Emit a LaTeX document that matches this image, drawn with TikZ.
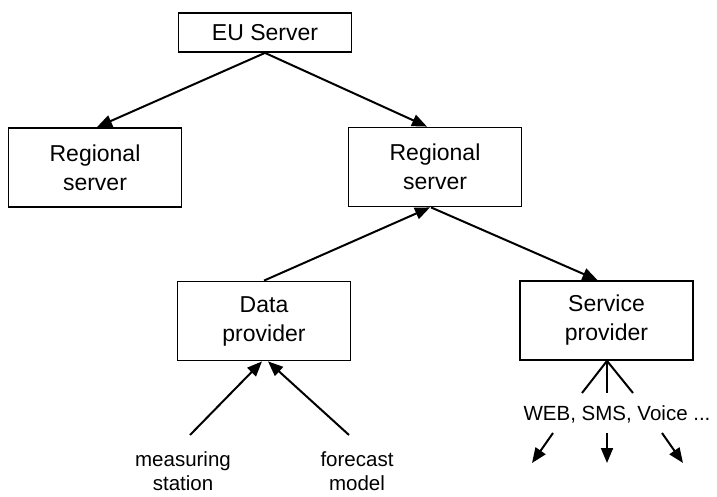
\documentclass[tikz,border=0pt]{standalone}
\usepackage{fontspec}
\setmainfont{Liberation Sans}
\usetikzlibrary{arrows.meta,calc}
\begin{document}
\begin{tikzpicture}[x=1pt,y=-1pt,
  box/.style={draw,line width=1.8pt,minimum width=173pt,minimum height=79pt,
    inner sep=0pt,align=center,font=\fontsize{23}{29}\selectfont},
  lbl/.style={align=center,inner sep=0pt,font=\fontsize{20.5}{24}\selectfont},
  arr/.style={line width=2pt,-{Triangle[length=15pt,width=12pt]}},
  ln/.style={line width=2pt}]
\useasboundingbox (0,0) rectangle (717,497);
\node[box,minimum height=39pt] (eu) at (265,32.5) {EU Server};
\node[box] (lr) at (95,167.5) {Regional\\server};
\node[box] (rr) at (435,167) {Regional\\server};
\node[box] (dp) at (264,321) {Data\\provider};
\node[box] (sp) at (606.5,320.5) {Service\\provider};
\node[lbl] (ms) at (183,471) {measuring\\station};
\node[lbl] (fm) at (357,471) {forecast\\model};
\node[lbl] (web) at (617,414) {WEB, SMS, Voice ...};
\coordinate (mst) at (190,435);
\coordinate (fmt) at (349,435);
\coordinate (f1) at (582,393);
\coordinate (f2) at (607,393);
\coordinate (f3) at (633,393);
\coordinate (a1s) at (553,433);
\coordinate (a1e) at (532,463);
\coordinate (a2s) at (607,433);
\coordinate (a2e) at (607,463);
\coordinate (a3s) at (662,433);
\coordinate (a3e) at (683,463);
\draw[arr] (eu.south) -- ($(lr.north)+(2,0)$);
\draw[arr] (eu.south) -- ($(rr.north)+(-8,0)$);
\draw[arr] (dp.north) -- ($(rr.south)+(-5,0)$);
\draw[arr] ($(rr.south)+(-4,0)$) -- ($(sp.north)+(-9,0)$);
\draw[arr] (mst) -- ($(dp.south)+(-2,0)$);
\draw[arr] (fmt) -- ($(dp.south)+(4,0)$);
\draw[ln] (f1) -- ($(sp.south)+(0.5,0)$) -- (f3);
\draw[ln] ($(sp.south)+(0.5,0)$) -- (f2);
\draw[arr] (a1s) -- (a1e);
\draw[arr] (a2s) -- (a2e);
\draw[arr] (a3s) -- (a3e);
\end{tikzpicture}
\end{document}
